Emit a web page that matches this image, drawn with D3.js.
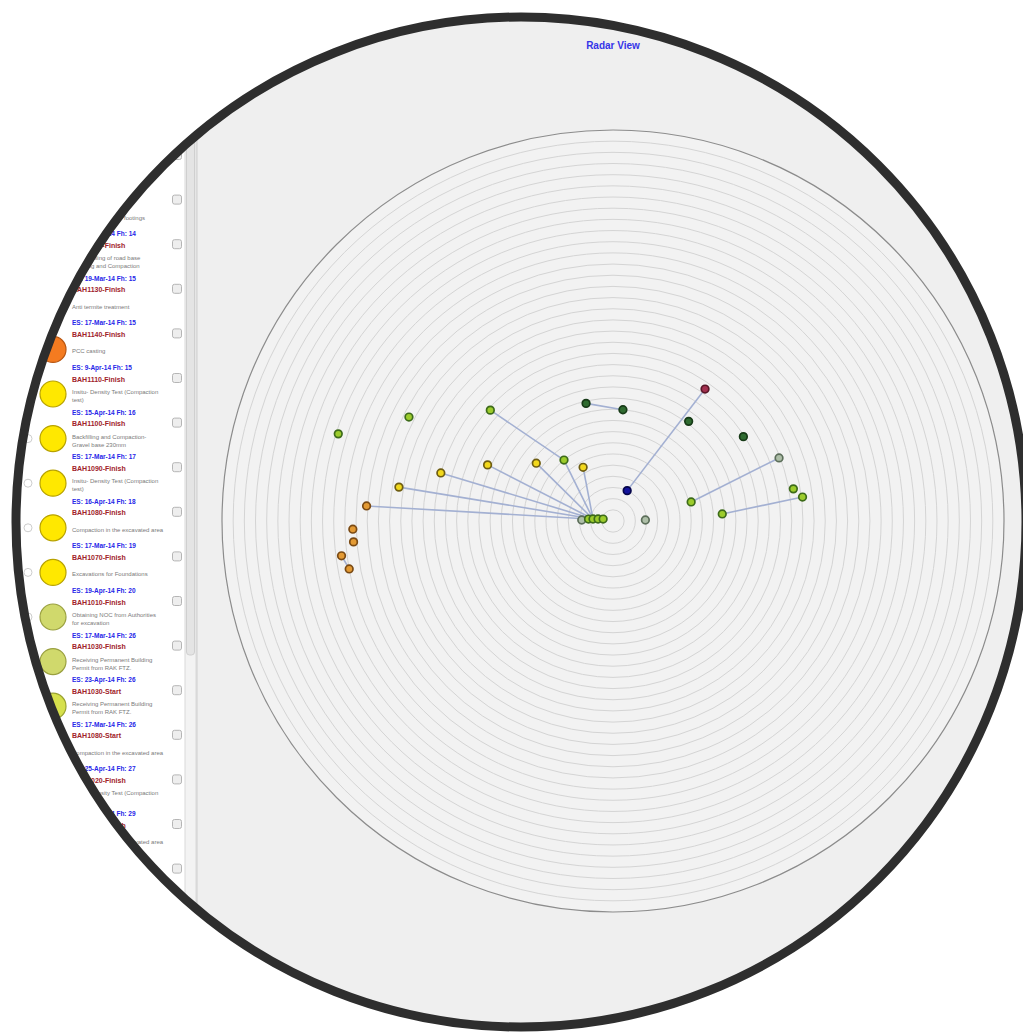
<!DOCTYPE html>
<html>
<head>
<meta charset="utf-8">
<script src="https://cdn.jsdelivr.net/npm/d3@7"></script>
<style>
  body { margin: 0; background: #fff; }
  svg { display: block; }
</style>
</head>
<body>
<div id="chart"></div>
<script>
// radar points: angle in degrees (counter-clockwise from east), distance in ring units
const pointAngle = [162.4, 153.0, 137.9, 128.8, 102.9, 84.9,
  171.0, 164.4, 155.9, 143.0, 119.1,
  176.5, 181.8, 184.6, 187.3, 190.3,
  178.2, 175.4, 174.3, 172.4, 168.7,
  65.0, 1.8, 55.1, 52.8, 32.9, 20.8, 13.7, 10.1, 7.2, 3.7];
const pointDist = [25.8, 20.5, 14.8, 7.0, 10.8, 10.0,
  19.4, 16.0, 12.3, 8.6, 5.5,
  22.1, 23.3, 23.3, 24.5, 24.0,
  2.8, 2.2, 1.8, 1.35, 0.9,
  3.0, 2.9, 14.4, 11.2, 13.9, 15.9, 7.2, 16.4, 17.1, 9.8];
const pointStatus = ["green", "green", "green", "green", "darkgreen", "darkgreen",
  "yellow", "yellow", "yellow", "yellow", "yellow",
  "orange", "orange", "orange", "orange", "orange",
  "grey", "green", "green", "green", "green",
  "blue", "grey", "maroon", "darkgreen", "darkgreen", "grey", "green", "green", "green", "green"];
// dependency links between points (index pairs)
const links = [[2, 3], [3, 18], [6, 18], [7, 18], [8, 18], [9, 18], [10, 18],
  [11, 17], [4, 5], [21, 23], [26, 27], [29, 30], [14, 15]];
const ringCount = 35;

// task list on the left
const taskDates = ["ES: 12-Mar-14 Fh: 13", "ES: 14-Mar-14 Fh: 14", "ES: 15-Mar-14 Fh: 14",
  "ES: 19-Mar-14 Fh: 15", "ES: 17-Mar-14 Fh: 15", "ES: 9-Apr-14 Fh: 15",
  "ES: 15-Apr-14 Fh: 16", "ES: 17-Mar-14 Fh: 17", "ES: 16-Apr-14 Fh: 18",
  "ES: 17-Mar-14 Fh: 19", "ES: 19-Apr-14 Fh: 20", "ES: 17-Mar-14 Fh: 26",
  "ES: 23-Apr-14 Fh: 26", "ES: 17-Mar-14 Fh: 26", "ES: 25-Apr-14 Fh: 27",
  "ES: 27-Apr-14 Fh: 29", "ES: 28-Apr-14 Fh: 30"];
const taskLabels = ["BAH1160-Finish", "BAH1150-Finish", "BAH1120-Finish", "BAH1130-Finish",
  "BAH1140-Finish", "BAH1110-Finish", "BAH1100-Finish", "BAH1090-Finish",
  "BAH1080-Finish", "BAH1070-Finish", "BAH1010-Finish", "BAH1030-Finish",
  "BAH1030-Start", "BAH1080-Start", "BAH1020-Finish", "BAH1060-Finish", "BAH1050-Finish"];
const taskDescs = [
  ["Reinforcement for footings"],
  ["Shuttering work for footings"],
  ["Carpet filling of road base", "Leveling and Compaction"],
  ["Anti termite treatment"],
  ["PCC casting"],
  ["Insitu- Density Test (Compaction", "test)"],
  ["Backfilling and Compaction-", "Gravel base 230mm"],
  ["Insitu- Density Test (Compaction", "test)"],
  ["Compaction in the excavated area"],
  ["Excavations for Foundations"],
  ["Obtaining NOC from Authorities", "for excavation"],
  ["Receiving Permanent Building", "Permit from RAK FTZ."],
  ["Receiving Permanent Building", "Permit from RAK FTZ."],
  ["Compaction in the excavated area"],
  ["Insitu- Density Test (Compaction", "test)"],
  ["Compaction in the excavated area"],
  ["Site mobilisation"]];
const taskStatus = ["orange", "orange", "orange", "orange", "orange",
  "yellow", "yellow", "yellow", "yellow", "yellow",
  "olive", "olive", "lime", "lime", "lime", "lime", "lime"];

const W = 1023, H = 1032;
const frame = {cx: 521, cy: 522, r: 505};
const radar = {cx: 613, cy: 521, r: 391};

const svg = d3.select("#chart").append("svg")
  .attr("width", W)
  .attr("height", H);

svg.append("defs").append("clipPath")
  .attr("id", "lens")
  .append("circle")
  .attr("cx", frame.cx)
  .attr("cy", frame.cy)
  .attr("r", frame.r - 3);

const g = svg.append("g").attr("clip-path", "url(#lens)");

// backgrounds
g.append("rect").attr("x", 0).attr("y", 0).attr("width", W).attr("height", H).attr("fill", "#efefef");
g.append("rect").attr("x", 0).attr("y", 0).attr("width", 185).attr("height", H).attr("fill", "#ffffff");

// scrollbar
g.append("rect").attr("x", 185).attr("y", 0).attr("width", 11).attr("height", H)
  .attr("fill", "#f3f3f3").attr("stroke", "#d9d9d9");
g.append("rect").attr("x", 186.5).attr("y", 110).attr("width", 8).attr("height", 545)
  .attr("rx", 3).attr("fill", "#e4e4e4").attr("stroke", "#cfcfcf");
g.append("line").attr("x1", 197).attr("x2", 197).attr("y1", 0).attr("y2", H)
  .attr("stroke", "#cfcfcf");

// task list
const itemY = d3.scaleLinear().domain([0, 1]).range([156, 200.6]);
const panelColor = d3.scaleOrdinal()
  .domain(["orange", "yellow", "olive", "lime"])
  .range(["#f47b20", "#ffe800", "#d0d96c", "#d6e04c"]);
const panelStroke = d3.scaleOrdinal()
  .domain(["orange", "yellow", "olive", "lime"])
  .range(["#b85510", "#b8a200", "#9aa040", "#9aa230"]);

const items = g.append("g").selectAll("g")
  .data(taskLabels)
  .join("g")
  .attr("transform", (d, i) => `translate(0,${itemY(i)})`);

items.append("circle")
  .attr("cx", 28).attr("cy", 15).attr("r", 4)
  .attr("fill", "#fff").attr("stroke", "#cccccc");

items.append("circle")
  .attr("cx", 53).attr("cy", 15).attr("r", 13)
  .attr("fill", (d, i) => panelColor(taskStatus[i]))
  .attr("stroke", (d, i) => panelStroke(taskStatus[i]))
  .attr("stroke-width", 1.2);

items.append("text")
  .attr("x", 72).attr("y", -9)
  .attr("font-family", "Liberation Sans, Arial, sans-serif")
  .attr("font-size", 6.5).attr("font-weight", "bold")
  .attr("fill", "#2626e8")
  .text((d, i) => taskDates[i]);

items.append("text")
  .attr("x", 72).attr("y", 2.5)
  .attr("font-family", "Liberation Sans, Arial, sans-serif")
  .attr("font-size", 7).attr("font-weight", "bold")
  .attr("fill", "#a0222a")
  .text(d => d);

items.each(function (d, i) {
  const lines = taskDescs[i];
  const top = 17 - (lines.length - 1) * 4;
  d3.select(this).selectAll("text.desc")
    .data(lines)
    .join("text")
    .attr("class", "desc")
    .attr("x", 72)
    .attr("y", (l, j) => top + j * 8 + 2)
    .attr("font-family", "Liberation Sans, Arial, sans-serif")
    .attr("font-size", 6)
    .attr("fill", "#7a7a7a")
    .text(l => l);
});

items.append("rect")
  .attr("x", 172.5).attr("y", -5.5).attr("width", 9).attr("height", 9).attr("rx", 2)
  .attr("fill", "#eeeeee").attr("stroke", "#b5b5b5");

// radar
const rScale = d3.scaleLinear().domain([0, ringCount]).range([0, radar.r]);
const rad = d => d * Math.PI / 180;
const px = i => radar.cx + rScale(pointDist[i]) * Math.cos(rad(pointAngle[i]));
const py = i => radar.cy - rScale(pointDist[i]) * Math.sin(rad(pointAngle[i]));

g.append("circle")
  .attr("cx", radar.cx).attr("cy", radar.cy).attr("r", radar.r)
  .attr("fill", "#f2f2f2");

g.append("g").selectAll("circle")
  .data(d3.range(1, ringCount + 1))
  .join("circle")
  .attr("cx", radar.cx).attr("cy", radar.cy)
  .attr("r", d => rScale(d))
  .attr("fill", "none")
  .attr("stroke", d => d === ringCount ? "#8c8c8c" : "#d4d4d4")
  .attr("stroke-width", d => d === ringCount ? 1.2 : 1);

g.append("text")
  .attr("x", radar.cx).attr("y", 49)
  .attr("text-anchor", "middle")
  .attr("font-family", "Liberation Sans, Arial, sans-serif")
  .attr("font-size", 10).attr("font-weight", "bold")
  .attr("fill", "#3535e8")
  .text("Radar View");

g.append("g").selectAll("line")
  .data(links)
  .join("line")
  .attr("x1", d => px(d[0])).attr("y1", d => py(d[0]))
  .attr("x2", d => px(d[1])).attr("y2", d => py(d[1]))
  .attr("stroke", "#a3b0d2")
  .attr("stroke-width", 1.6);

const dotFill = d3.scaleOrdinal()
  .domain(["green", "yellow", "orange", "darkgreen", "grey", "blue", "maroon"])
  .range(["#9ccc2c", "#f2d81c", "#e39a34", "#2f6b30", "#aebfa8", "#13139c", "#a3304f"]);
const dotStroke = d3.scaleOrdinal()
  .domain(["green", "yellow", "orange", "darkgreen", "grey", "blue", "maroon"])
  .range(["#3d6b1a", "#6e5d12", "#7a4a14", "#173a17", "#5c6e5a", "#05054a", "#571526"]);

g.append("g").selectAll("circle")
  .data(pointStatus)
  .join("circle")
  .attr("cx", (d, i) => px(i))
  .attr("cy", (d, i) => py(i))
  .attr("r", 3.8)
  .attr("fill", d => dotFill(d))
  .attr("stroke", d => dotStroke(d))
  .attr("stroke-width", 1.7);

// lens frame
svg.append("circle")
  .attr("cx", frame.cx).attr("cy", frame.cy).attr("r", frame.r)
  .attr("fill", "none")
  .attr("stroke", "#2e2e2e")
  .attr("stroke-width", 9);
</script>
</body>
</html>
